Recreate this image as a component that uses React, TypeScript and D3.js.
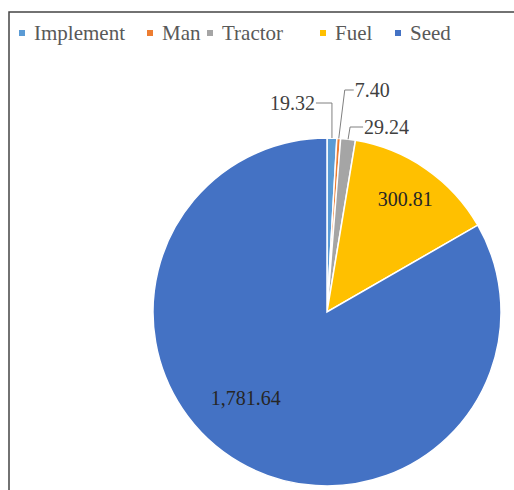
import React from "react";
import * as d3 from "d3";

const categories = ["Implement", "Man", "Tractor", "Fuel", "Seed"];
const values = [19.32, 7.4, 29.24, 300.81, 1781.64];
const colors = ["#5B9BD5", "#ED7D31", "#A5A5A5", "#FFC000", "#4472C4"];

const W = 514;
const H = 490;
const cx = 327;
const cy = 312;
const R = 174;
const FONT = "Times New Roman";

type LabelCfg = { mode: "out" | "in"; bendY?: number; dx?: number; anchor?: string; rFrac?: number; ox?: number; oy?: number };
const labelCfg: LabelCfg[] = [
  { mode: "out", bendY: -209, dx: -16, anchor: "end" },
  { mode: "out", bendY: -222, dx: 9, anchor: "start" },
  { mode: "out", bendY: -185, dx: 13, anchor: "start" },
  { mode: "in", rFrac: 0.79, ox: 0, oy: 0 },
  { mode: "in", rFrac: 0.68, ox: -22, oy: -16 },
];

const legendTextX = [34, 162, 222, 335, 410];

const fmt = d3.format(",.2f");

export default function App() {
  const pie = d3.pie<number>().sort(null).value((d) => d)(values);
  const arc = d3.arc<d3.PieArcDatum<number>>().innerRadius(0).outerRadius(R);

  return (
    <svg width={W} height={H} style={{ position: "absolute", left: 0, top: 0, background: "#fff" }}>
      <rect x={9} y={12} width={W} height={H} fill="#fff" stroke="#444" strokeWidth={1.5} />
      {categories.map((c, i) => (
        <g key={c}>
          <rect x={legendTextX[i] - 15} y={30} width={6} height={6} fill={colors[i]} />
          <text x={legendTextX[i]} y={40} fontSize={21} fill="#595959" fontFamily={FONT}>
            {c}
          </text>
        </g>
      ))}
      <g transform={`translate(${cx},${cy})`}>
        {pie.map((p, i) => (
          <path key={i} d={arc(p) || ""} fill={colors[i]} stroke="#fff" strokeWidth={1.5} />
        ))}
        {pie.map((p, i) => {
          const cfg = labelCfg[i];
          const a = (p.startAngle + p.endAngle) / 2;
          const label = fmt(values[i]);
          if (cfg.mode === "in") {
            const r = R * (cfg.rFrac || 0.7);
            const x = Math.sin(a) * r + (cfg.ox || 0);
            const y = -Math.cos(a) * r + (cfg.oy || 0);
            return (
              <text key={"l" + i} x={x} y={y + 7} textAnchor="middle" fontSize={20} fill="#262626" fontFamily={FONT}>
                {label}
              </text>
            );
          }
          const x0 = Math.sin(a) * R;
          const y0 = -Math.cos(a) * R;
          const by = cfg.bendY || 0;
          const bx = i === 1 ? x0 + 6 : i === 2 ? x0 + 2 : x0;
          const ex = bx + (cfg.dx || 0);
          return (
            <g key={"l" + i}>
              <polyline points={`${x0},${y0} ${bx},${by} ${ex},${by}`} fill="none" stroke="#808080" strokeWidth={1} />
              <text
                x={ex + (cfg.anchor === "end" ? -1 : 1)}
                y={by + 7}
                textAnchor={cfg.anchor as any}
                fontSize={20}
                fill="#404040"
                fontFamily={FONT}
              >
                {label}
              </text>
            </g>
          );
        })}
      </g>
    </svg>
  );
}
